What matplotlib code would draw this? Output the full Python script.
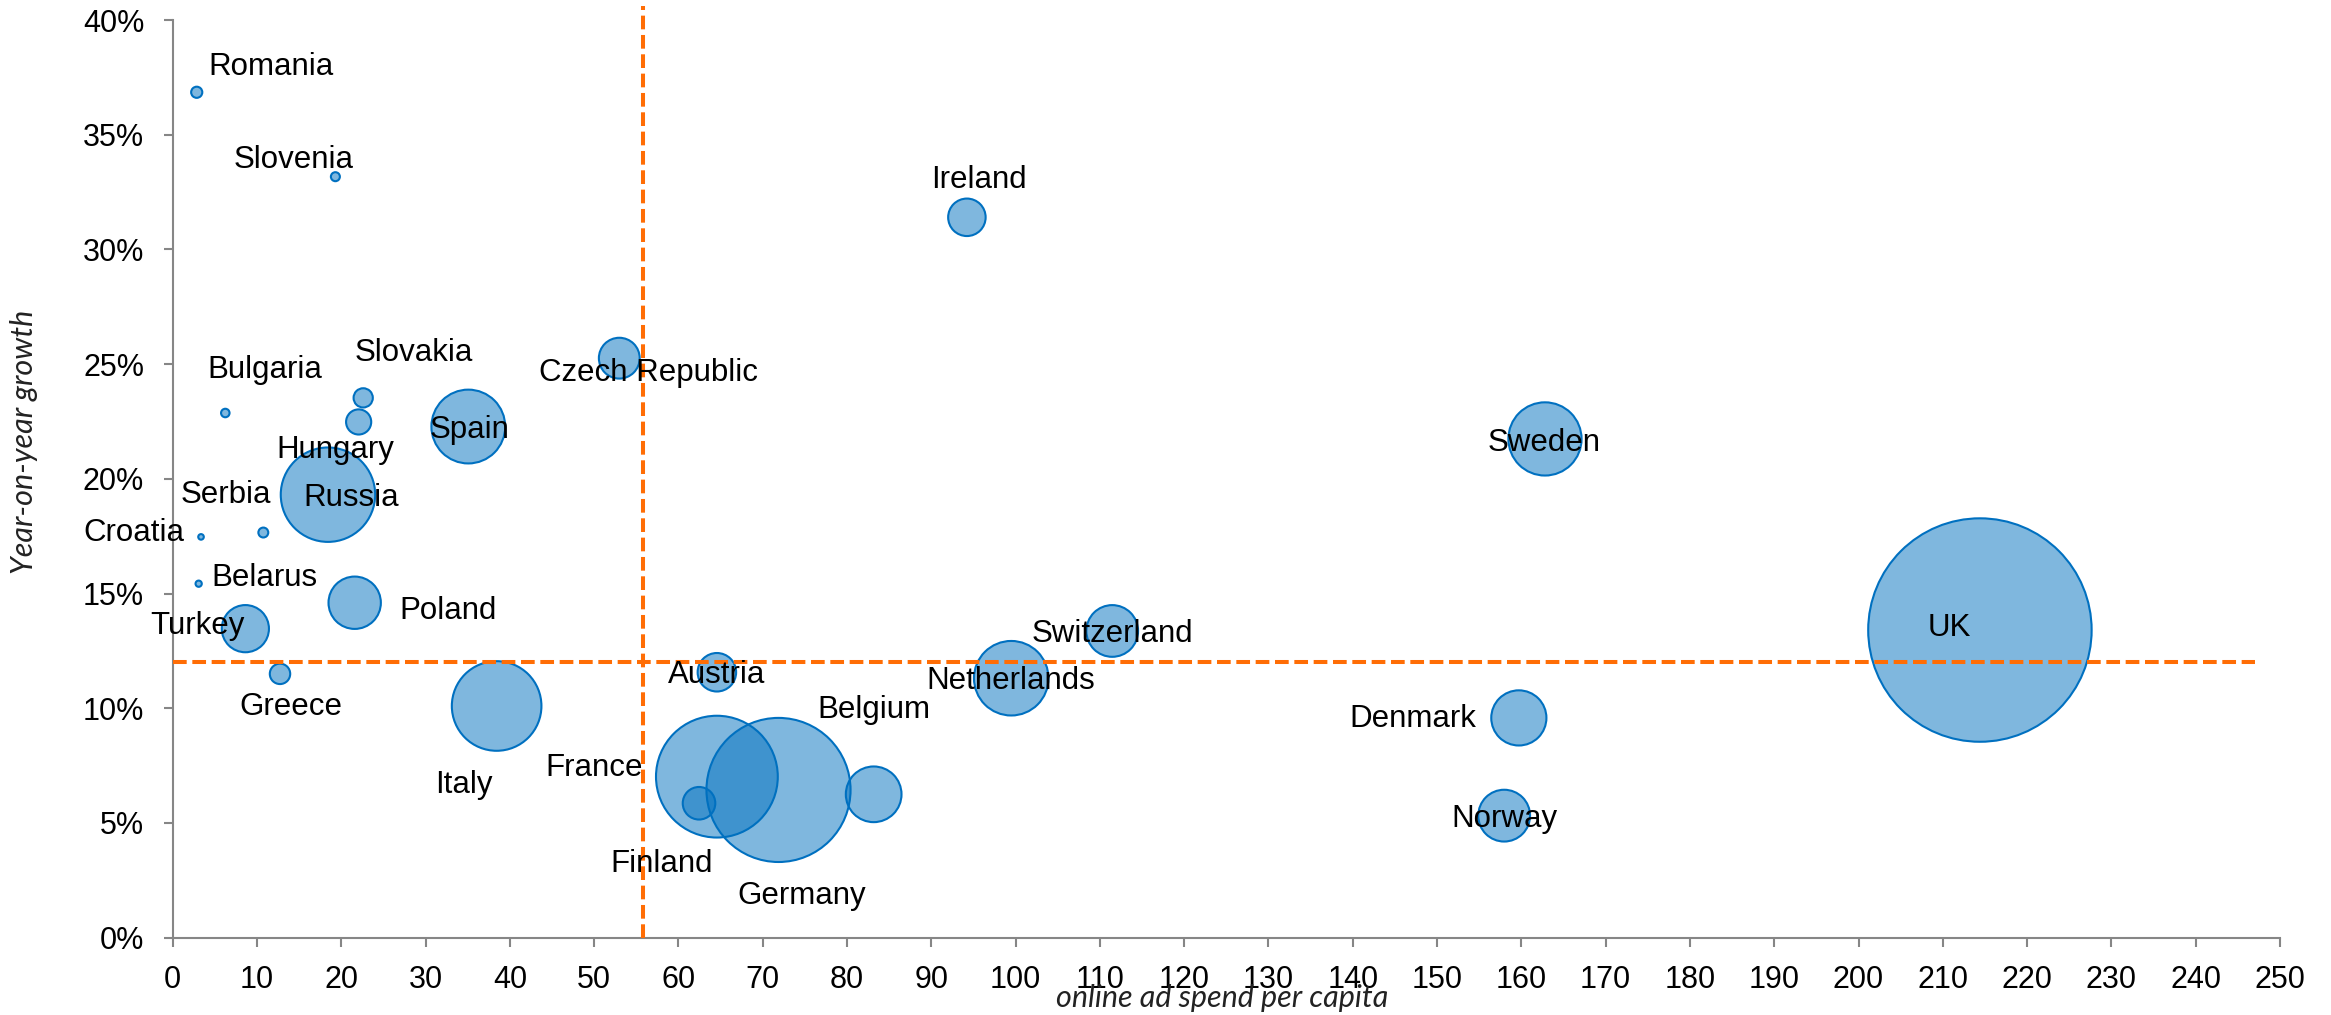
import matplotlib
matplotlib.use("Agg")
import matplotlib.pyplot as plt
import numpy as np

# ---- data ----
countries = ["Romania", "Slovenia", "Bulgaria", "Slovakia", "Hungary", "Spain", "Russia",
             "Croatia", "Serbia", "Belarus", "Poland", "Turkey", "Greece", "Italy",
             "Czech Republic", "Ireland", "Sweden", "Denmark", "Norway", "UK",
             "Austria", "France", "Germany", "Finland", "Belgium", "Netherlands", "Switzerland"]
ad_spend_per_capita = [2.85, 19.3, 6.24, 22.6, 22.06, 35.07, 18.42,
                       3.36, 10.75, 3.08, 21.59, 8.62, 12.73, 38.43,
                       52.98, 94.22, 162.8, 159.7, 157.96, 214.4,
                       64.56, 64.56, 71.87, 62.44, 83.16, 99.48, 111.46]
yoy_growth_pct = [36.85, 33.17, 22.87, 23.53, 22.48, 22.28, 19.31,
                  17.47, 17.66, 15.43, 14.6, 13.47, 11.5, 10.1,
                  25.26, 31.4, 21.74, 9.58, 5.32, 13.41,
                  11.57, 7.02, 6.44, 5.86, 6.25, 11.31, 13.37]
market_size = [1.6, 1.1, 1.0, 4.3, 7.1, 56.7, 92.0,
               0.5, 1.3, 0.6, 29.0, 23.7, 4.8, 83.0,
               17.9, 15.2, 55.8, 32.1, 28.4, 506.0,
               16.0, 152.0, 212.0, 11.6, 32.7, 57.8, 28.3]

# label anchor points (data coords, baseline-centred)
label_x = [11.7, 14.31, 10.95, 28.66, 19.31, 35.23, 21.23,
           -4.65, 6.26, 10.87, 32.66, 2.9, 14.01, 34.52,
           56.42, 95.67, 162.75, 147.13, 158.0, 210.77,
           64.5, 50.0, 74.6, 58.04, 83.19, 99.43, 111.48]
label_y = [37.61, 33.54, 24.38, 25.14, 20.9, 21.8, 18.82,
           17.31, 18.94, 15.33, 13.88, 13.22, 9.71, 6.32,
           24.27, 32.69, 21.23, 9.2, 4.84, 13.15,
           11.09, 7.05, 1.47, 2.88, 9.56, 10.83, 12.88]

avg_spend = 55.8        # vertical reference line
avg_growth = 12.0       # horizontal reference line
hline_end = 247.0
vline_top = 40.6

x_ticks = list(range(0, 251, 10))
y_ticks = list(range(0, 41, 5))

# ---- figure ----
W, H = 2331, 1015
fig = plt.figure(figsize=(W / 100, H / 100), dpi=100)
left, right, bottom, top = 172.7, 2280.0, 937.7, 20.0
ax = fig.add_axes([left / W, 1 - bottom / H, (right - left) / W, (bottom - top) / H])
ax.set_xlim(0, 250)
ax.set_ylim(0, 40)

# bubbles: area proportional to market size
diam_px = 10 * np.sqrt(np.array(market_size)) - 1.5
sizes = (diam_px * 0.72) ** 2
ax.scatter(ad_spend_per_capita, yoy_growth_pct, s=sizes,
           facecolor=(0.0, 0.44, 0.75, 0.5), edgecolor="#0070C0",
           linewidth=1.5, zorder=3)

# reference lines
ax.plot([0, hline_end], [avg_growth, avg_growth], color="#FF6D05", lw=2.9,
        dashes=(3.4, 1.4), zorder=4, clip_on=False)
ax.plot([avg_spend, avg_spend], [0, vline_top], color="#FF6D05", lw=2.9,
        dashes=(3.4, 1.4), zorder=4, clip_on=False)

for name, lx, ly in zip(countries, label_x, label_y):
    ax.text(lx, ly, name, ha="center", va="baseline", fontsize=22.5,
            family="Liberation Sans", color="black", zorder=6, clip_on=False)

# axes styling
for s in ["top", "right"]:
    ax.spines[s].set_visible(False)
for s in ["left", "bottom"]:
    ax.spines[s].set_color("#868686")
    ax.spines[s].set_linewidth(1.5)
ax.set_xticks(x_ticks)
ax.set_yticks(y_ticks)
ax.set_yticklabels([f"{v}%" for v in y_ticks])
ax.tick_params(axis="both", direction="out", length=6.5, width=1.5, color="#868686",
               labelsize=22, labelcolor="black")
ax.tick_params(axis="y", pad=14)
ax.tick_params(axis="x", pad=13)
for lab in ax.get_xticklabels() + ax.get_yticklabels():
    lab.set_family("Liberation Sans")

fig.text(1222 / W, 1 - 1007 / H, "online ad spend per capita", ha="center", va="baseline",
         fontsize=22, style="italic", family="Lato", color="#222222")
fig.text(24 / W, 1 - 442 / H, "Year-on-year growth", ha="center", va="center",
         rotation=90, fontsize=22, style="italic", family="Lato", color="#222222")

fig.savefig("out.png", dpi=100, facecolor="white")
